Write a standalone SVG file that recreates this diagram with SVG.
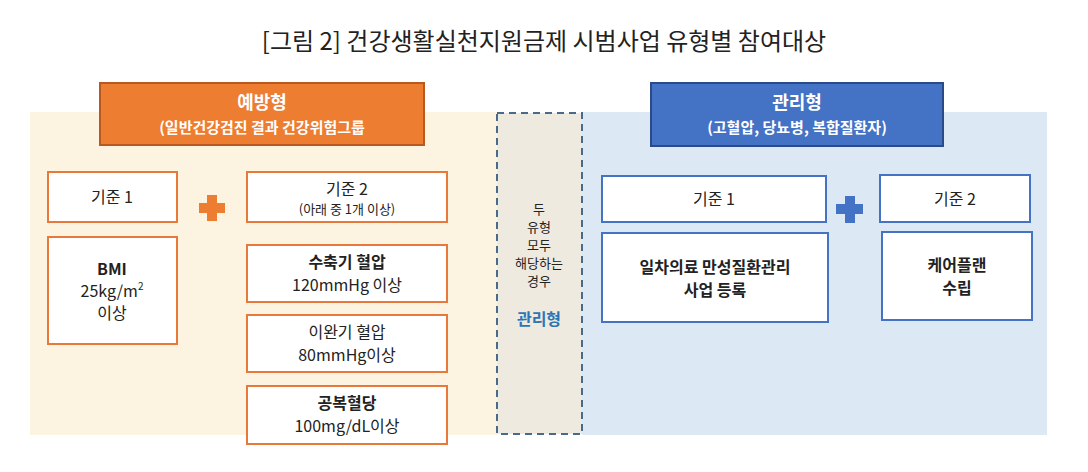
<svg xmlns="http://www.w3.org/2000/svg" width="1088" height="472" viewBox="0 0 1088 472">
<style>
text{font-family:"Noto Sans CJK KR","Noto Sans",sans-serif;text-anchor:middle;fill:#222}
.ob{fill:#fff;stroke:#e9793a;stroke-width:2}
.bb{fill:#fff;stroke:#4472c4;stroke-width:2}
.t{font-size:16px}
.s{font-size:13px}
.b{font-weight:bold}
.w{fill:#fff;font-weight:bold}
</style>
<rect width="1088" height="472" fill="#fff"/>
<text x="544" y="50" style="font-size:24px">[그림 2] 건강생활실천지원금제 시범사업 유형별 참여대상</text>
<rect x="30" y="112" width="467" height="323" fill="#fdf3e1"/>
<rect x="582" y="112" width="465" height="323" fill="#dde8f5"/>
<g id="both">
<rect x="497" y="113" width="85" height="321" fill="#efeadf" stroke="#4a6a8a" stroke-width="2" stroke-dasharray="7,5"/>
<text class="s" x="539" y="214">두</text>
<text class="s" x="539" y="232">유형</text>
<text class="s" x="539" y="250">모두</text>
<text class="s" x="539" y="268">해당하는</text>
<text class="s" x="539" y="286">경우</text>
<text x="539" y="325" style="font-size:16px;font-weight:bold;fill:#2e75b6">관리형</text>
</g>
<g id="prevent-header">
<rect x="100" y="83" width="324" height="62" fill="#ed7d31" stroke="#b85a20" stroke-width="2"/>
<text class="w" x="262" y="109" style="font-size:18px">예방형</text>
<text class="w" x="262" y="133" style="font-size:15px">(일반건강검진 결과 건강위험그룹</text>
</g>
<g id="manage-header">
<rect x="651" y="83" width="292" height="63" fill="#4472c4" stroke="#2a4a8a" stroke-width="2"/>
<text class="w" x="797" y="109" style="font-size:18px">관리형</text>
<text class="w" x="797" y="133" style="font-size:15px">(고혈압, 당뇨병, 복합질환자)</text>
</g>
<g id="p-c1"><rect class="ob" x="48" y="172" width="129" height="50"/><text class="t" x="112" y="203">기준 1</text></g>
<g id="p-bmi"><rect class="ob" x="48" y="237" width="129" height="107"/>
<text class="t b" x="112" y="275">BMI</text><text class="t" x="112" y="297">25kg/m<tspan baseline-shift="super" style="font-size:10px">2</tspan></text><text class="t" x="112" y="319">이상</text></g>
<g id="p-plus"><path d="M207 195h10v8h8v10h-8v8h-10v-8h-8v-10h8z" fill="#ed7d31"/></g>
<g id="p-c2"><rect class="ob" x="247" y="172" width="200" height="50"/><text class="t" x="347" y="195">기준 2</text><text class="s" x="347" y="214">(아래 중 1개 이상)</text></g>
<g id="p-sys"><rect class="ob" x="247" y="245" width="200" height="57"/><text class="t b" x="347" y="268">수축기 혈압</text><text class="t" x="347" y="291">120mmHg 이상</text></g>
<g id="p-dia"><rect class="ob" x="247" y="315" width="200" height="57"/><text class="t" x="347" y="338">이완기 혈압</text><text class="t" x="347" y="361">80mmHg이상</text></g>
<g id="p-glu"><rect class="ob" x="247" y="386" width="200" height="58"/><text class="t b" x="347" y="409">공복혈당</text><text class="t" x="347" y="432">100mg/dL이상</text></g>
<g id="m-c1"><rect class="bb" x="602" y="176" width="224" height="46"/><text class="t" x="714" y="205">기준 1</text></g>
<g id="m-reg"><rect class="bb" x="602" y="233" width="226" height="89"/><text class="t b" x="715" y="273">일차의료 만성질환관리</text><text class="t b" x="715" y="296">사업 등록</text></g>
<g id="m-plus"><path d="M845 196h10v8h8v10h-8v9h-10v-9h-9v-10h9z" fill="#4472c4"/></g>
<g id="m-c2"><rect class="bb" x="880" y="175" width="150" height="47"/><text class="t" x="955" y="205">기준 2</text></g>
<g id="m-care"><rect class="bb" x="882" y="232" width="150" height="88"/><text class="t b" x="957" y="271">케어플랜</text><text class="t b" x="957" y="294">수립</text></g>
<g id="connectors"></g>
</svg>
